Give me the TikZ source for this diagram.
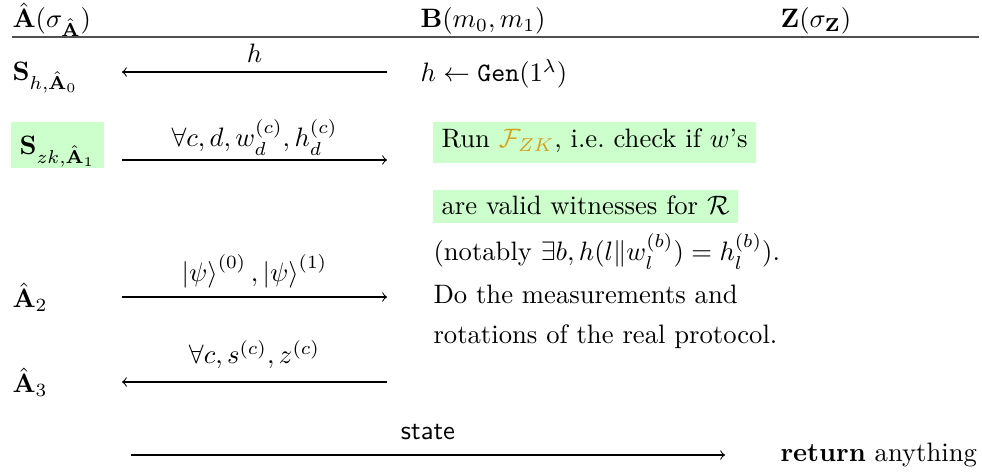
\documentclass[tikz,border=0pt]{standalone}
\usepackage{amsmath,amssymb}
\definecolor{hl}{HTML}{CCFFCC}
\definecolor{zk}{HTML}{D4A017}
\definecolor{rulecol}{HTML}{505050}
\begin{document}
\begin{tikzpicture}[x=0.3753pt,y=-0.3753pt,
  txt/.style={anchor=base west,inner sep=0pt},
  lbl/.style={anchor=base,inner sep=0pt},
  msg/.style={->,line width=0.4pt}]
\useasboundingbox (0,0) rectangle (982,475);
% header
\node[txt] (ha) at (12,28) {$\hat{\mathbf{A}}(\sigma_{\hat{\mathbf{A}}})$};
\node[txt] (hb) at (420,28) {$\mathbf{B}(m_0, m_1)$};
\node[txt] (hz) at (780,28) {$\mathbf{Z}(\sigma_{\mathbf{Z}})$};
\coordinate (rl) at (12,37); \coordinate (rr) at (979,37);
\draw[rulecol,line width=0.6pt] (rl) -- (rr);
% row 1
\node[txt] (a0) at (12,81) {$\mathbf{S}_{h,\hat{\mathbf{A}}_0}$};
\coordinate (m1a) at (387,72); \coordinate (m1b) at (122,72);
\draw[msg] (m1a) -- (m1b);
\node[lbl] (l1) at (254.5,63) {$h$};
\node[txt] (b1) at (420,82) {$h \leftarrow \texttt{Gen}(1^\lambda)$};
% row 2
\fill[hl] (11,122) rectangle (104,168);
\node[txt] (a1) at (19,155) {$\mathbf{S}_{zk,\hat{\mathbf{A}}_1}$};
\coordinate (m2a) at (122,160); \coordinate (m2b) at (387,160);
\draw[msg] (m2a) -- (m2b);
\node[lbl] (l2) at (254.5,147) {$\forall c, d, w_d^{(c)}, h_d^{(c)}$};
\fill[hl] (433,122) rectangle (756,163);
\node[txt] (b2) at (441,148) {Run $\textcolor{zk}{\mathcal{F}_{ZK}}$, i.e.\ check if $w$'s};
\fill[hl] (433,190) rectangle (738,223);
\node[txt] (b3) at (441,215) {are valid witnesses for $\mathcal{R}$};
\node[txt] (b4) at (433,261) {(notably $\exists b, h(l\|w_l^{(b)}) = h_l^{(b)}$).};
% row 3
\node[txt] (a2) at (12,308) {$\hat{\mathbf{A}}_2$};
\coordinate (m3a) at (122,297); \coordinate (m3b) at (387,297);
\draw[msg] (m3a) -- (m3b);
\node[lbl] (l3) at (254.5,282) {$\left|\psi\right\rangle^{(0)}, \left|\psi\right\rangle^{(1)}$};
\node[txt] (b5) at (433,304) {Do the measurements and};
\node[txt] (b6) at (433,344) {rotations of the real protocol.};
% row 4
\node[txt] (a3) at (12,393) {$\hat{\mathbf{A}}_3$};
\coordinate (m4a) at (387,382); \coordinate (m4b) at (122,382);
\draw[msg] (m4a) -- (m4b);
\node[lbl] (l4) at (254.5,364) {$\forall c, s^{(c)}, z^{(c)}$};
% final
\coordinate (m5a) at (131,455); \coordinate (m5b) at (725,455);
\draw[msg] (m5a) -- (m5b);
\node[lbl] (l5) at (428,440) {\sffamily state};
\node[txt] (z1) at (780,462) {\textbf{return} anything};
\end{tikzpicture}
\end{document}
